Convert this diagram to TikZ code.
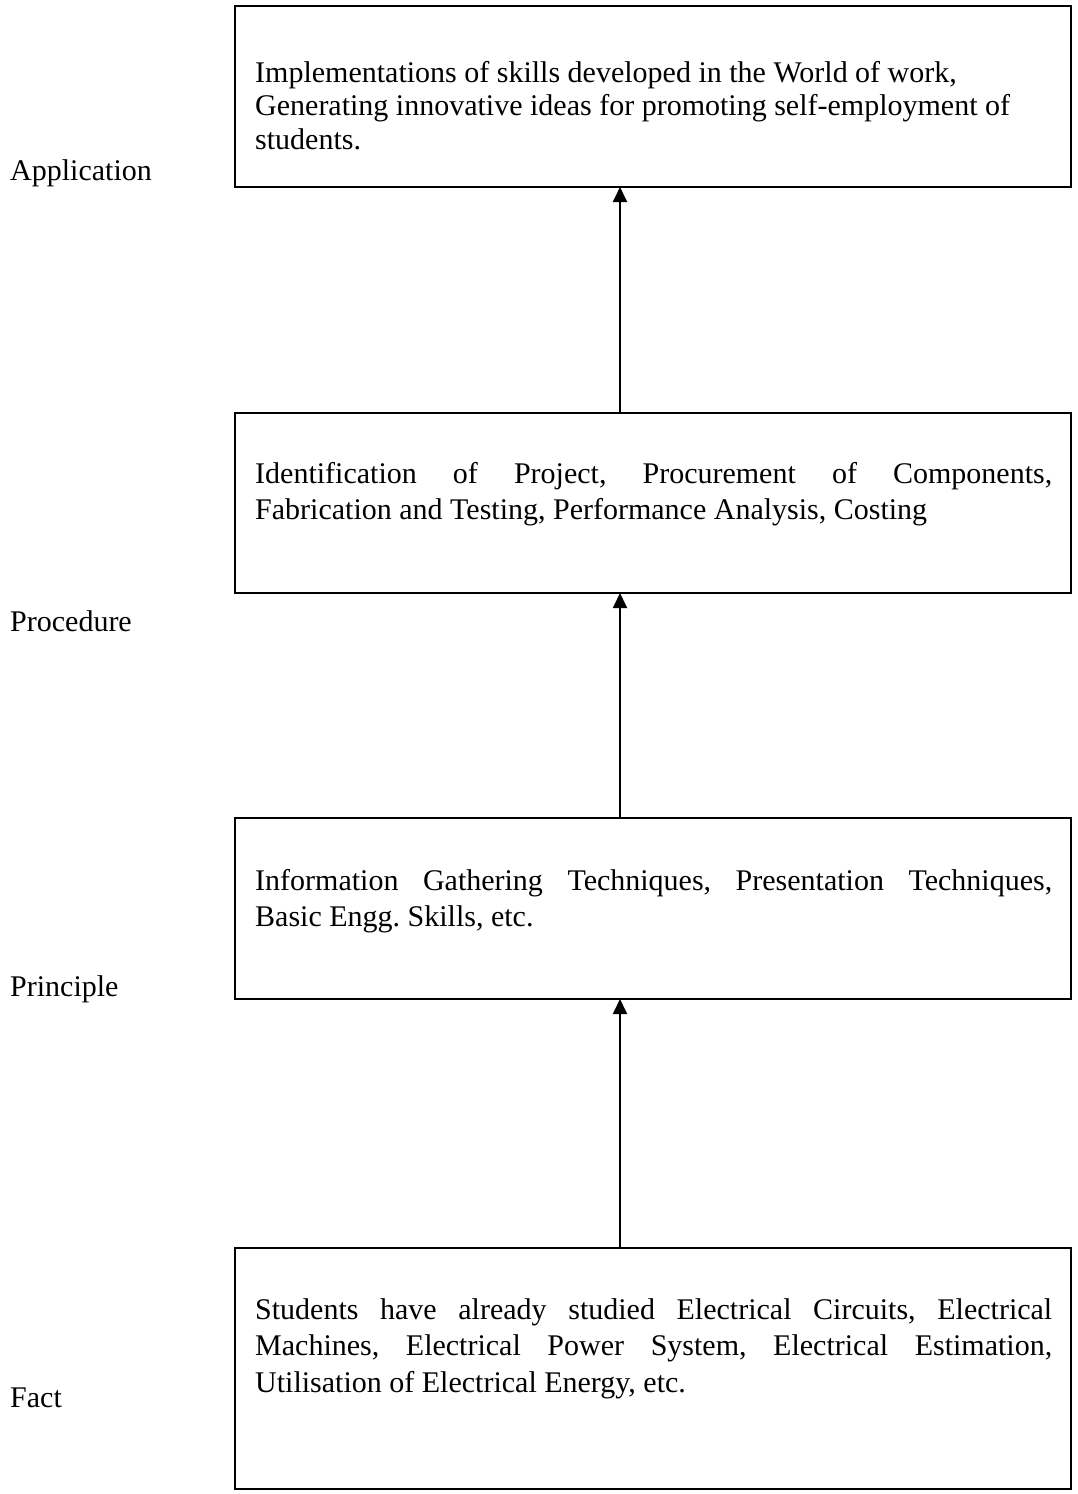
\documentclass[tikz,border=0pt]{standalone}
\usepackage{fontspec}
\setmainfont{Liberation Serif}
\usetikzlibrary{arrows.meta}
\newcommand\myjustline[1]{\leavevmode\hbox to 797pt{\spaceskip=0.25em plus 1fil\relax #1}}
\frenchspacing
\begin{document}
\begin{tikzpicture}[x=1pt,y=-1pt,
  box/.style={draw, line width=1.8pt, inner sep=0pt, outer sep=0pt, minimum width=836pt},
  body/.style={anchor=base west, inner sep=0pt, text width=797pt, align=flush left, font=\fontsize{30}{#1}\selectfont},
  body/.default=34,
  lab/.style={anchor=base west, inner sep=0pt, font=\fontsize{30}{35}\selectfont},
  link/.style={line width=1.8pt, -{Triangle[width=14pt,length=15pt]}}]
\useasboundingbox (0,0) rectangle (1077,1494);

% boxes
\node[box, minimum height=181pt] (b1) at (653,96.5) {};
\node[box, minimum height=180pt] (b2) at (653,503) {};
\node[box, minimum height=181pt] (b3) at (653,908.5) {};
\node[box, minimum height=241pt] (b4) at (653,1368.5) {};

% texts
\node[body=33.5] (t1) at (255,82) {Implementations of skills developed in the World of work,\\
Generating innovative ideas for promoting self-employment of\\
students.};
\node[body=36] (t2) at (255,483) {\myjustline{Identification of Project, Procurement of Components,}\\
Fabrication and Testing, Performance Analysis, Costing};
\node[body=36] (t3) at (255,890) {\myjustline{Information Gathering Techniques, Presentation Techniques,}\\
Basic Engg. Skills, etc.};
\node[body=36.5] (t4) at (255,1319) {\myjustline{Students have already studied Electrical Circuits, Electrical}\\
\myjustline{Machines, Electrical Power System, Electrical Estimation,}\\
Utilisation of Electrical Energy, etc.};

% side labels
\node[lab] (l1) at (10,180) {Application};
\node[lab] (l2) at (10,631) {Procedure};
\node[lab] (l3) at (10,996) {Principle};
\node[lab] (l4) at (10,1407) {Fact};

% arrows
\coordinate (ax) at (620,0);
\draw[link] (b2.north -| ax) -- (b1.south -| ax);
\draw[link] (b3.north -| ax) -- (b2.south -| ax);
\draw[link] (b4.north -| ax) -- (b3.south -| ax);
\end{tikzpicture}
\end{document}
